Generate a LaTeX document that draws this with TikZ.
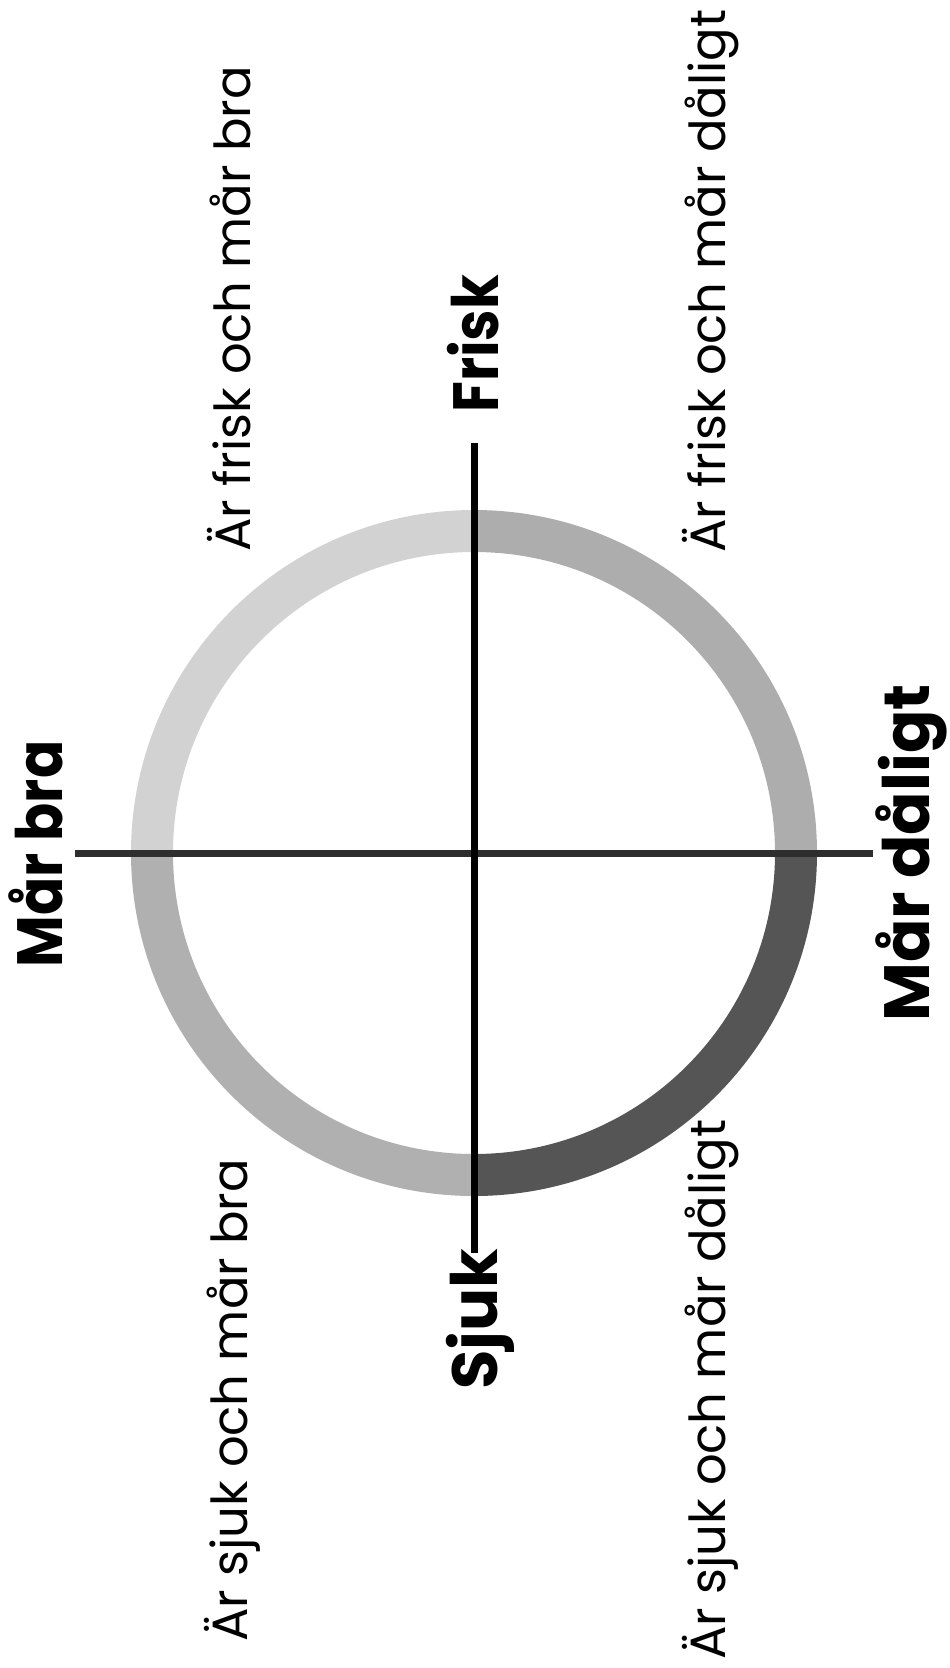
\documentclass[tikz,border=0pt]{standalone}
\usepackage{fontspec}
\setmainfont{Poppins}
\definecolor{ringFB}{HTML}{D2D2D2}
\definecolor{ringFD}{HTML}{ADADAD}
\definecolor{ringSB}{HTML}{B0B0B0}
\definecolor{ringSD}{HTML}{555555}
\definecolor{hline}{HTML}{2E2E2E}
\begin{document}
\begin{tikzpicture}[x=1pt,y=-1pt,
  quad/.style={rotate=90, anchor=base west, inner sep=0pt, font=\fontsize{49.6}{56}\selectfont},
  axislabel/.style={rotate=90, inner sep=0pt, font=\fontsize{64}{70}\selectfont\bfseries},
  ring/.style={line width=42pt},
  vaxis/.style={line width=7pt, draw=black},
  haxis/.style={line width=7pt, draw=hline}]
\useasboundingbox (0,0) rectangle (950,1668);
\coordinate (c) at (474,853);
% ring quadrants (angle 90 = page down)
\draw[ring, draw=ringFB] (c) ++(180:322) arc[start angle=180, end angle=270, radius=322];
\draw[ring, draw=ringFD] (c) ++(270:322) arc[start angle=270, end angle=360, radius=322];
\draw[ring, draw=ringSD] (c) ++(0:322) arc[start angle=0, end angle=90, radius=322];
\draw[ring, draw=ringSB] (c) ++(90:322) arc[start angle=90, end angle=180, radius=322];
% axes
\coordinate (vt) at (474,443);
\coordinate (vb) at (474,1253);
\coordinate (hl) at (75,853);
\coordinate (hr) at (873,853);
\draw[haxis] (hl) -- (hr);
\draw[vaxis] (vt) -- (vb);
% axis labels
\node[axislabel, anchor=base west] (frisk) at (498,413) {\scalebox{0.88}[1]{Frisk}};
\node[axislabel, anchor=base west] (sjuk) at (497,1390) {Sjuk};
\node[axislabel, anchor=base] (bra) at (62,854) {\scalebox{0.88}[1]{Mår bra}};
\node[axislabel, anchor=base] (daligt) at (929,853) {Mår dåligt};
% quadrant labels
\node[quad] (fb) at (250,552) {Är frisk och mår bra};
\node[quad] (fd) at (725,553) {Är frisk och mår dåligt};
\node[quad] (sb) at (247,1642) {Är sjuk och mår bra};
\node[quad] (sd) at (725,1660) {Är sjuk och mår dåligt};
\end{tikzpicture}
\end{document}
